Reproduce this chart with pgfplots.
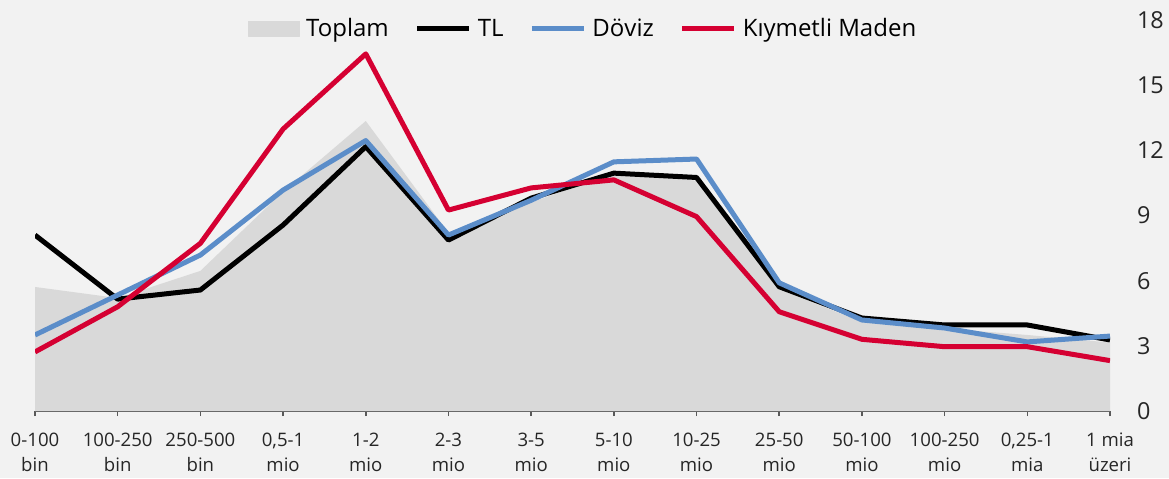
\documentclass[border=0pt]{standalone}
\usepackage{pgfplots}
\pgfplotsset{compat=1.18}
\usepackage{fontspec}
\setmainfont{Open Sans}
\definecolor{bg}{HTML}{F2F2F2}
\definecolor{areac}{HTML}{D9D9D9}
\definecolor{blu}{HTML}{5B8DC9}
\definecolor{rd}{HTML}{D50032}
\definecolor{axc}{HTML}{595959}
\definecolor{txt}{HTML}{262626}
\pgfplotsset{legend image code/.code={\draw[#1] (0pt,0pt) -- (26pt,0pt);}}
\begin{document}
\begin{tikzpicture}[x=1pt,y=1pt]
\fill[bg] (0,0) rectangle (584.5,239);
\useasboundingbox (0,0) rectangle (584.5,239);
\begin{axis}[
  at={(17.5pt,33.5pt)}, anchor=south west,
  scale only axis, width=537.5pt, height=195.5pt,
  xmin=0, xmax=13, ymin=0, ymax=18,
  axis x line*=bottom, axis y line*=right,
  x axis line style={draw=axc, line width=1pt, -},
  y axis line style={draw=none},
  xtick={0,...,13},
  xticklabels={{0-100\\bin},{100-250\\bin},{250-500\\bin},{0,5-1\\mio},{1-2\\mio},{2-3\\mio},{3-5\\mio},{5-10\\mio},{10-25\\mio},{25-50\\mio},{50-100\\mio},{100-250\\mio},{0,25-1\\mia},{1 mia\\üzeri}},
  xticklabel style={align=center, font=\fontsize{9.3}{12.5}\selectfont, text=txt, yshift=-5pt},
  ytick={0,3,...,18},
  yticklabel style={font=\fontsize{11.7}{14}\selectfont, text=txt, xshift=7.5pt},
  /pgf/number format/assume math mode=true,
  x tick style={draw=axc, line width=0.8pt},
  y tick style={draw=none},
  tick align=outside, major tick length=2.5pt,
  legend columns=-1,
  legend style={at={(rel axis cs:0.511,0.977)}, anchor=center, draw=none, fill=none,
    font=\fontsize{12}{14}\selectfont,
    /tikz/every odd column/.append style={column sep=1pt},
    /tikz/every even column/.append style={column sep=11pt}},
  legend cell align=left,
  every axis plot/.append style={line join=round},
]
\addplot[fill=areac, draw=none, forget plot] coordinates {
(0,5.71) (1,5.2) (2,6.45) (3,10.1) (4,13.35) (5,8.2) (6,9.6) (7,10.95) (8,10.6) (9,5.6) (10,4.1) (11,3.8) (12,3.5) (13,3.15)} \closedcycle;
\addlegendimage{legend image code/.code={\fill[areac] (0pt,-3.75pt) rectangle (25.5pt,3.75pt);}}
\addlegendentry{Toplam}
\addplot[black, line width=2.5pt] coordinates {
(0,8.1) (1,5.15) (2,5.57) (3,8.56) (4,12.17) (5,7.87) (6,9.8) (7,10.95) (8,10.75) (9,5.72) (10,4.28) (11,3.96) (12,3.96) (13,3.27)};
\addlegendentry{TL}
\addplot[blu, line width=2.5pt] coordinates {
(0,3.5) (1,5.34) (2,7.18) (3,10.17) (4,12.45) (5,8.1) (6,9.7) (7,11.47) (8,11.6) (9,5.9) (10,4.19) (11,3.82) (12,3.18) (13,3.45)};
\addlegendentry{Döviz}
\addplot[rd, line width=2.5pt] coordinates {
(0,2.72) (1,4.8) (2,7.72) (3,12.98) (4,16.44) (5,9.25) (6,10.27) (7,10.64) (8,8.95) (9,4.57) (10,3.3) (11,2.96) (12,2.96) (13,2.32)};
\addlegendentry{Kıymetli Maden}
\end{axis}
\end{tikzpicture}
\end{document}
